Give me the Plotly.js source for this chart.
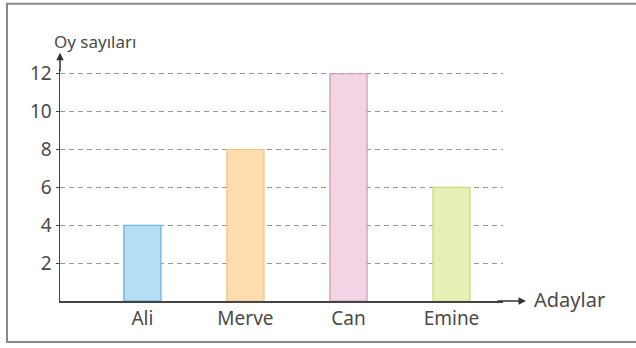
<!DOCTYPE html>
<html>
<head>
<meta charset="utf-8">
<script src="https://cdn.plot.ly/plotly-3.0.1.min.js"></script>
<style>html,body{margin:0;padding:0;background:#fff;}#chart{width:636px;height:348px;}</style>
</head>
<body>
<div id="chart"></div>
<script>
const categories = ["Ali", "Merve", "Can", "Emine"];
const votes = [4, 8, 12, 6];
const fillColors = ["#b5def5", "#fddcae", "#f2d4e4", "#e6f0b4"];
const lineColors = ["#5fb2e2", "#f3c27e", "#c897b0", "#cbda7a"];
const yTicks = [2, 4, 6, 8, 10, 12];
const yTitle = "Oy sayıları";
const xTitle = "Adaylar";

// pixel layout: y=0 at 301px, y=12 at 74px
const L = 60, R = 503, B = 301, Y12 = 74, W = 636, H = 348;
const pxPerUnit = (B - Y12) / 12;
const yTop = 12.25;
const T = B - yTop * pxPerUnit;
const px = v => (v - L) / (R - L);
const py = v => (B - v) / (B - T);

const trace = {
  type: "bar",
  x: categories.map((c, i) => i),
  y: votes,
  width: 0.36,
  marker: { color: fillColors, line: { color: lineColors, width: 1.2 } },
  hoverinfo: "none"
};

const fam = "Noto Sans, Open Sans, sans-serif";
const tickFont = { family: fam, size: 19, color: "#4a4a4a" };

const layout = {
  width: W, height: H,
  margin: { l: L, r: W - R, t: T, b: H - B, pad: 0 },
  paper_bgcolor: "#fff", plot_bgcolor: "#fff",
  showlegend: false,
  bargap: 0,
  xaxis: {
    range: [-0.8, 3.5],
    tickmode: "array",
    tickvals: categories.map((c, i) => i),
    ticktext: categories,
    showgrid: false, zeroline: false,
    showline: true, linecolor: "#444", linewidth: 1.5,
    ticks: "", tickfont: tickFont, fixedrange: true
  },
  yaxis: {
    range: [0, yTop],
    tickmode: "array",
    tickvals: yTicks,
    ticktext: yTicks.map(String),
    showgrid: true, gridcolor: "#999", gridwidth: 1, griddash: "5px,4px",
    zeroline: false,
    showline: true, linecolor: "#444", linewidth: 1.5,
    ticks: "outside", ticklen: 3, tickcolor: "#444",
    tickfont: tickFont, fixedrange: true
  },
  shapes: [
    { type: "rect", xref: "paper", yref: "paper",
      x0: px(7), x1: px(645), y0: py(342), y1: py(4),
      line: { color: "#888", width: 2 }, fillcolor: "rgba(0,0,0,0)", layer: "below" }
  ],
  annotations: [
    { xref: "paper", yref: "paper", x: px(60), y: py(53), ax: 0, ay: 20,
      showarrow: true, arrowhead: 2, arrowsize: 1, arrowwidth: 1.5, arrowcolor: "#333", text: "" },
    { xref: "paper", yref: "paper", x: px(526), y: py(301), ax: -30, ay: 0,
      showarrow: true, arrowhead: 2, arrowsize: 1, arrowwidth: 1.5, arrowcolor: "#333", text: "" },
    { xref: "paper", yref: "paper", x: px(52), y: py(42), xanchor: "left", yanchor: "middle",
      showarrow: false, text: yTitle, font: { family: fam, size: 17, color: "#4a4a4a" } },
    { xref: "paper", yref: "paper", x: px(532), y: py(300), xanchor: "left", yanchor: "middle",
      showarrow: false, text: xTitle, font: { family: fam, size: 20, color: "#4a4a4a" } }
  ]
};

Plotly.newPlot("chart", [trace], layout, { displayModeBar: false, staticPlot: true });
</script>
</body>
</html>
